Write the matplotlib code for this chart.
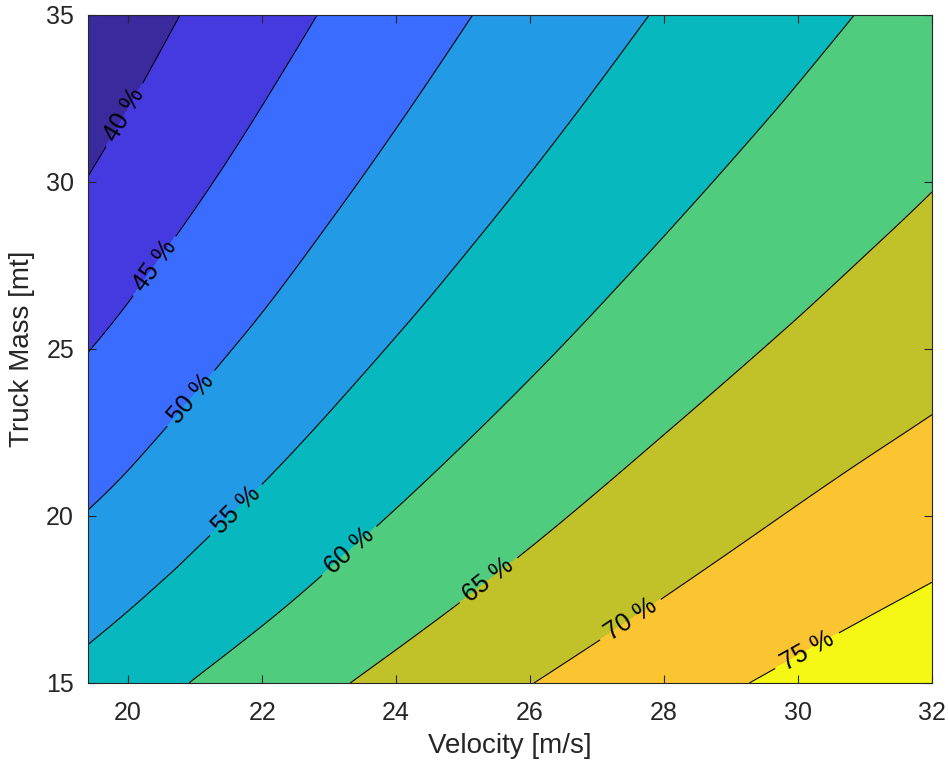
import matplotlib
matplotlib.use("Agg")
import matplotlib.pyplot as plt
import matplotlib.tri as mtri
import numpy as np

plt.rcParams["font.family"] = ["Liberation Sans", "DejaVu Sans"]

# grid of efficiency values [%]
velocity = [19.4, 20, 21, 22, 23, 24, 25, 26, 27, 28, 29, 30, 31, 32]
mass = [15, 17.5, 20, 22.5, 25, 27.5, 30, 32.5, 35]
efficiency = [
    [56.60, 58.00, 60.20, 62.30, 64.37, 66.32, 68.16, 69.90, 71.56, 73.13, 74.61, 76.01, 77.34, 78.58],
    [53.20, 54.55, 56.83, 58.98, 61.10, 63.09, 64.98, 66.77, 68.47, 70.08, 71.59, 73.01, 74.34, 75.58],
    [50.20, 51.50, 53.84, 56.04, 58.20, 60.24, 62.16, 63.99, 65.73, 67.38, 68.91, 70.34, 71.67, 72.90],
    [47.40, 48.80, 51.16, 53.39, 55.59, 57.67, 59.63, 61.49, 63.26, 64.94, 66.49, 67.93, 69.26, 70.48],
    [44.90, 46.30, 48.72, 50.99, 53.22, 55.33, 57.32, 59.21, 61.01, 62.72, 64.30, 65.76, 67.12, 68.36],
    [42.50, 44.00, 46.46, 48.78, 51.05, 53.18, 55.21, 57.12, 58.95, 60.68, 62.30, 63.80, 65.22, 66.52],
    [40.15, 41.80, 44.34, 46.74, 49.03, 51.20, 53.25, 55.19, 57.04, 58.79, 60.44, 61.99, 63.44, 64.80],
    [38.11, 39.76, 42.38, 44.84, 47.16, 49.35, 51.42, 53.39, 55.26, 57.04, 58.71, 60.29, 61.79, 63.20],
    [36.27, 37.94, 40.58, 43.06, 45.41, 47.62, 49.71, 51.70, 53.59, 55.39, 57.10, 58.71, 60.24, 61.70],
]
levels = [30, 40, 45, 50, 55, 60, 65, 70, 75, 85]
line_levels = [40, 45, 50, 55, 60, 65, 70, 75]

fill_colors = ["#3b2a9e", "#4539e0", "#3a6dff", "#239ae6", "#07b9bf",
               "#50cc7f", "#c1c12a", "#fbc531", "#f5f714"]

# where the inline labels sit (data coords)
label_pos = [(19.95, 32.0), (20.45, 27.4), (20.95, 23.5), (21.55, 20.3),
             (23.28, 19.0), (25.37, 18.1), (27.53, 16.8), (30.17, 15.84)]

V, M = np.meshgrid(velocity, mass)
Z = np.array(efficiency)

# smooth the coarse table with matplotlib's cubic tri refiner
tri = mtri.Triangulation(V.ravel(), M.ravel())
refiner = mtri.UniformTriRefiner(tri)
tri_fine, z_fine = refiner.refine_field(Z.ravel(), subdiv=4)

fig = plt.figure(figsize=(9.48, 7.68), dpi=100)
ax = fig.add_axes([0.0928, 0.1107, 0.8903, 0.8698])

ax.tricontourf(tri_fine, z_fine, levels=levels, colors=fill_colors)
cs = ax.tricontour(tri_fine, z_fine, levels=line_levels, colors="black",
                   linewidths=0.8)
ax.clabel(cs, fmt="%d %%", fontsize=18, inline=True, inline_spacing=8,
          manual=label_pos)

ax.set_xlim(19.4, 32)
ax.set_ylim(15, 35)
ax.set_xticks([20, 22, 24, 26, 28, 30, 32])
ax.set_yticks([15, 20, 25, 30, 35])
ax.tick_params(direction="in", length=6, width=0.8, top=True, right=True,
               labelsize=18, colors="#262626")
ax.tick_params(axis="x", pad=13)
ax.tick_params(axis="y", pad=10)
for sp in ax.spines.values():
    sp.set_color("#262626")
    sp.set_linewidth(0.8)

ax.set_xlabel("Velocity [m/s]", fontsize=20, color="#262626", labelpad=6)
ax.set_ylabel("Truck Mass [mt]", fontsize=20, color="#262626", labelpad=8)

fig.savefig("out.png", dpi=100)
